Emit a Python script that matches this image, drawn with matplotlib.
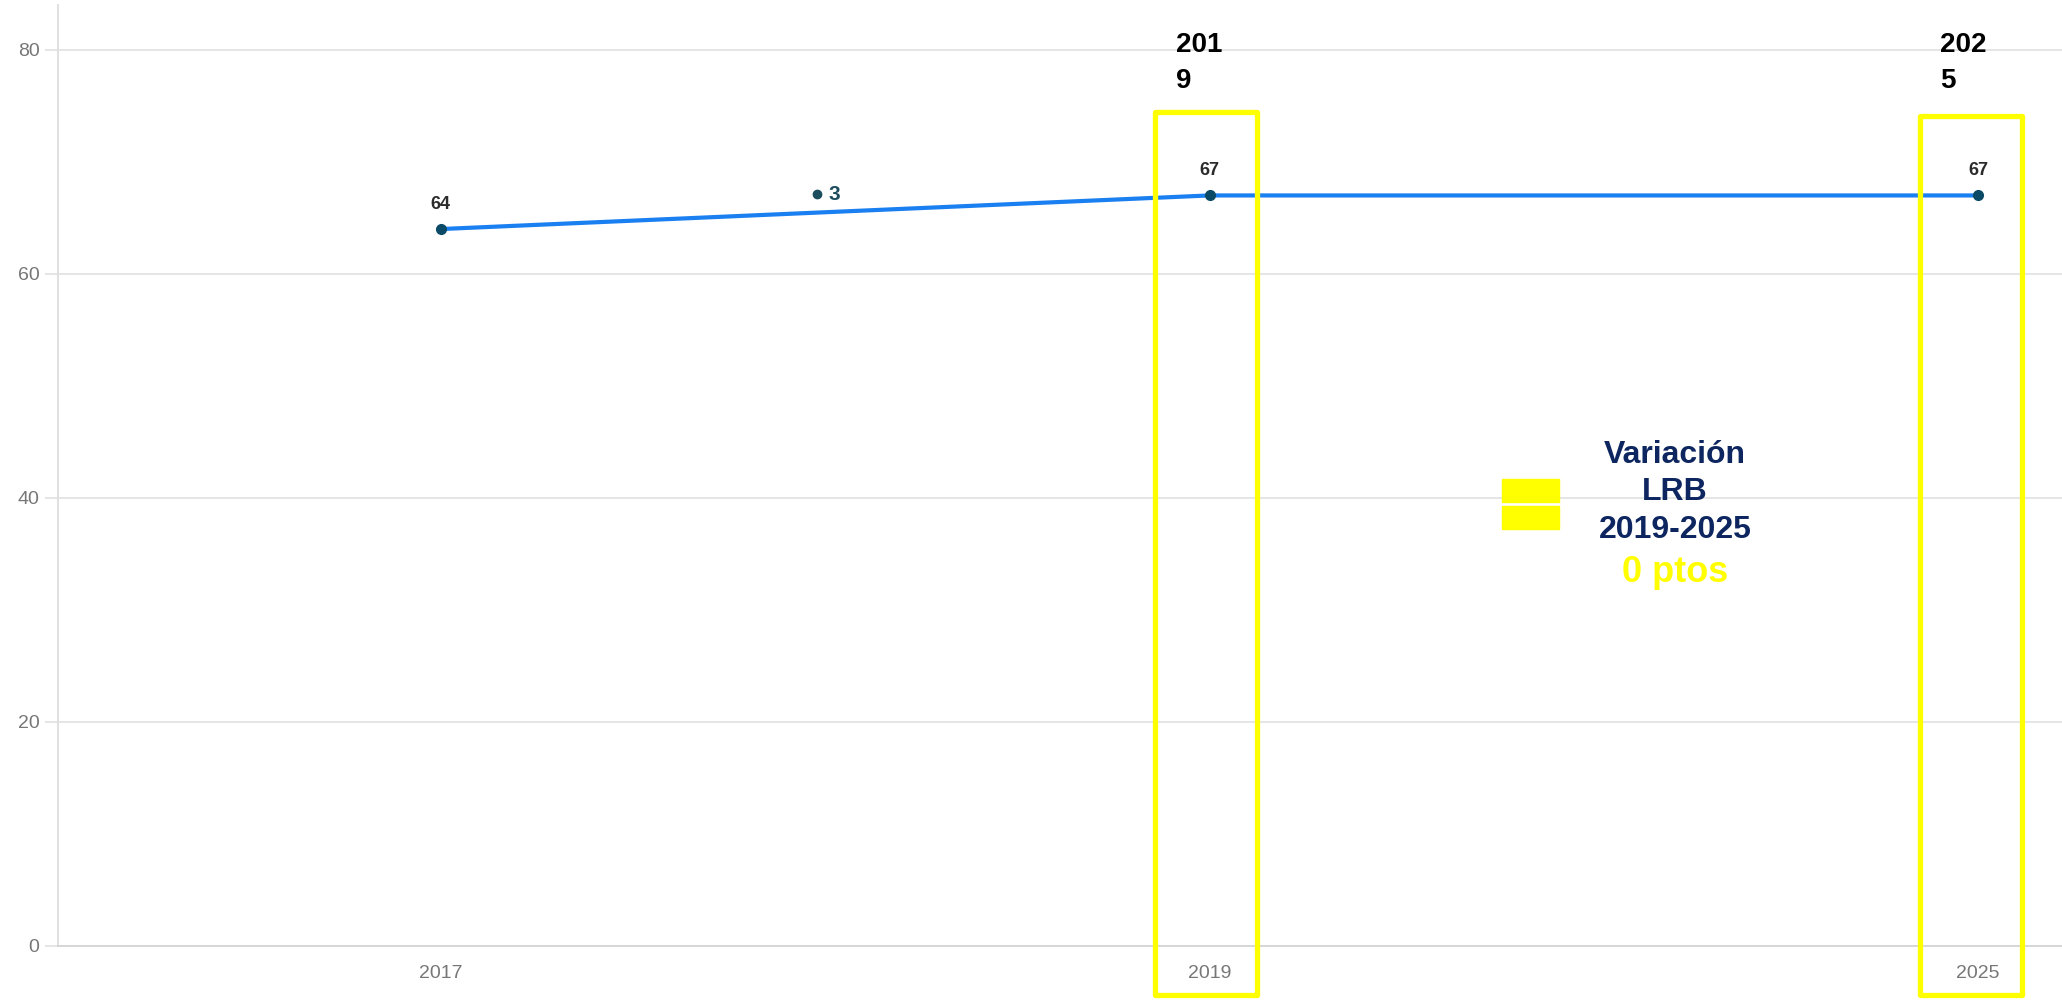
import matplotlib.pyplot as plt
from matplotlib.patches import Rectangle

plt.rcParams['font.family'] = ['Liberation Sans', 'DejaVu Sans']

# Data
years = ['2017', '2019', '2025']
scores = [64, 67, 67]
highlight_years = ['2019', '2025']

# stray label left on the chart (between 2017 and 2019)
stray_pos = 0.49
stray_value = 67.1
stray_text = '3'

W, H = 2062, 1002
fig = plt.figure(figsize=(W / 100, H / 100), dpi=100)
ax = fig.add_axes([58 / W, 56 / H, 1 - 58 / W, (946 - 5) / H])

x = list(range(len(years)))
ax.plot(x, scores, color='#1a7ff0', lw=3.0, solid_capstyle='round', zorder=3)
ax.plot(x, scores, 'o', color='#0b4a66', ms=7, zorder=4)

for xi, v in zip(x, scores):
    ax.annotate(str(v), (xi, v), xytext=(0, 14.5), textcoords='offset points',
                ha='center', va='baseline', fontsize=13, fontweight='bold',
                color='#2b2b2b')

# stray marker + label
ax.plot([stray_pos], [stray_value], 'o', color='#1b4d5e', ms=6, zorder=4)
ax.annotate(stray_text, (stray_pos, stray_value), xytext=(8, 0),
            textcoords='offset points', ha='left', va='center',
            fontsize=15, fontweight='bold', color='#1b4d5e')

ax.set_xlim(-0.498, 2.109)
ax.set_ylim(0, 84)
ax.set_yticks([0, 20, 40, 60, 80])
ax.set_xticks(x)
ax.set_xticklabels(years)
ax.grid(axis='y', color='#e3e3e3', lw=1.3)
ax.set_axisbelow(True)
for s in ['top', 'right']:
    ax.spines[s].set_visible(False)
ax.spines['left'].set_color('#dddddd')
ax.spines['left'].set_linewidth(1.3)
ax.spines['bottom'].set_color('#d4d4d4')
ax.spines['bottom'].set_linewidth(1.3)
ax.tick_params(axis='y', length=9.4, width=1.3, color='#e3e3e3', pad=4.0,
               labelsize=14, labelcolor='#777777')
ax.tick_params(axis='x', length=0, pad=13.5, labelsize=14, labelcolor='#777777')

# yellow highlight boxes around 2019 and 2025 (offset from category, top)
box_geom = {'2019': (-0.0703, 74.42), '2025': (-0.0761, 74.06)}
box_width = 0.1327
box_bottom = -4.33
for yr in highlight_years:
    i = years.index(yr)
    off, top = box_geom[yr]
    ax.add_patch(Rectangle((i + off, box_bottom), box_width, top - box_bottom,
                           fill=False, ec='#ffff00', lw=3.8, joinstyle='round',
                           clip_on=False, zorder=5))

# split year titles above the boxes
def fy(py):
    return 1 - py / H

for left, (a, b) in [(1176, ('201', '9')), (1940, ('202', '5'))]:
    fig.text(left / W, fy(52), a, ha='left', va='baseline', fontsize=20,
             fontweight='bold', color='black')
    fig.text(left / W, fy(88), b, ha='left', va='baseline', fontsize=20,
             fontweight='bold', color='black')

# equals-sign marker
fig.patches.append(Rectangle((1502 / W, fy(502)), 57 / W, 23 / H,
                             transform=fig.transFigure, color='#ffff00'))
fig.patches.append(Rectangle((1502 / W, fy(529)), 57 / W, 23 / H,
                             transform=fig.transFigure, color='#ffff00'))

cx = 1675 / W
for txt, base in [('Variación', 463), ('LRB', 500), ('2019-2025', 538)]:
    fig.text(cx, fy(base), txt, ha='center', va='baseline', fontsize=23,
             fontweight='bold', color='#0d2660')
fig.text(cx, fy(582), '0 ptos', ha='center', va='baseline', fontsize=26,
         fontweight='bold', color='#ffff00')

fig.savefig('out.png', dpi=100)
